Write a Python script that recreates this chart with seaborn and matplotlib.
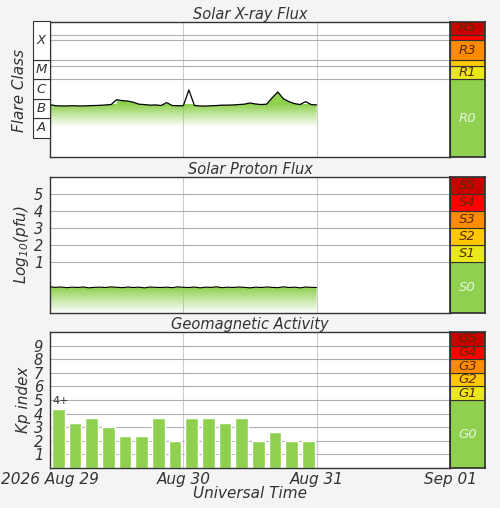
import numpy as np
import matplotlib
matplotlib.use("Agg")
import matplotlib.pyplot as plt
import seaborn as sns
from matplotlib.patches import Rectangle
from matplotlib.colors import LinearSegmentedColormap

# ==================== DATA ====================
# hours since 2026-08-29 00 UT
xray_hours = list(range(49))
xray_log_flux = [-6.30, -6.36, -6.37, -6.37, -6.36, -6.37, -6.37, -6.36, -6.35, -6.34,
                 -6.32, -6.30, -6.05, -6.10, -6.12, -6.18, -6.28, -6.30, -6.33, -6.32,
                 -6.35, -6.20, -6.35, -6.36, -6.36, -5.55, -6.35, -6.37, -6.38, -6.36,
                 -6.35, -6.33, -6.33, -6.32, -6.30, -6.28, -6.22, -6.27, -6.30, -6.28,
                 -5.95, -5.65, -6.00, -6.15, -6.25, -6.30, -6.15, -6.30, -6.32]

proton_hours = list(range(49))
proton_log_pfu = [-0.46, -0.49, -0.47, -0.51, -0.48, -0.50, -0.47, -0.52, -0.49, -0.48,
                  -0.50, -0.46, -0.49, -0.51, -0.47, -0.50, -0.48, -0.52, -0.47, -0.49,
                  -0.50, -0.48, -0.51, -0.46, -0.49, -0.50, -0.47, -0.52, -0.48, -0.49,
                  -0.46, -0.51, -0.48, -0.50, -0.47, -0.49, -0.52, -0.48, -0.50, -0.47,
                  -0.49, -0.51, -0.46, -0.50, -0.48, -0.52, -0.47, -0.49, -0.50]

kp_hours = [1.5 + 3 * i for i in range(16)]
kp_values = [4.33, 3.33, 3.67, 3.0, 2.33, 2.33, 3.67, 2.0,
             3.67, 3.67, 3.33, 3.67, 2.0, 2.67, 2.0, 2.0]
kp_first_label = "4+"

day_ticks = [0, 24, 48, 72]
day_labels = ["2026 Aug 29", "Aug 30", "Aug 31", "Sep 01"]

flare_classes = ["A", "B", "C", "M", "X"]
flare_bounds = [-8, -7, -6, -5, -4, -2]

# scale boxes: (low, high, label, colour)
r_scale = [(-9, -5, "R0", "#8fd14f"), (-5, -4.3, "R1", "#e8e81a"), (-4.3, -4, "", "#ffc800"),
           (-4, -3, "R3", "#ff8c00"), (-3, -2.7, "", "#ff0000"), (-2.7, -2, "R5", "#c80000")]
s_scale = [(-2, 1, "S0", "#8fd14f"), (1, 2, "S1", "#e8e81a"), (2, 3, "S2", "#ffc800"),
           (3, 4, "S3", "#ff8c00"), (4, 5, "S4", "#ff0000"), (5, 6, "S5", "#c80000")]
g_scale = [(0, 5, "G0", "#8fd14f"), (5, 6, "G1", "#e8e81a"), (6, 7, "G2", "#ffc800"),
           (7, 8, "G3", "#ff8c00"), (8, 9, "G4", "#ff0000"), (9, 10, "G5", "#c80000")]

GREEN = "#8fd14f"
TXT = "#333333"

sns.set_theme(style="white")
plt.rcParams["font.family"] = ["DejaVu Sans"]
plt.rcParams["font.style"] = "italic"

fig = plt.figure(figsize=(5, 5.08), dpi=100)
fig.patch.set_facecolor("#f4f4f4")

W, H = 500, 508
def px_axes(x0, y0, x1, y1):
    return fig.add_axes([x0 / W, 1 - y1 / H, (x1 - x0) / W, (y1 - y0) / H])

panels = [(22, 157), (177, 313), (332, 468)]
fade_cmap = LinearSegmentedColormap.from_list(
    "fade", [(0.56, 0.82, 0.31, 0.0), (0.56, 0.82, 0.31, 1.0)])


def setup_main(ax, ylim, yticks, ylabel, title):
    ax.set_facecolor("white")
    ax.set_xlim(0, 72)
    ax.set_ylim(*ylim)
    ax.set_yticks(yticks)
    ax.set_xticks(day_ticks)
    for t in day_ticks[1:3]:
        ax.axvline(t, color="#cccccc", lw=0.8, zorder=0)
    for s in ax.spines.values():
        s.set_color("#333333")
        s.set_linewidth(1)
    ax.set_ylabel(ylabel, fontsize=11, color=TXT, labelpad=2)
    ax.set_title(title, fontsize=10.5, color=TXT, pad=2)
    ax.tick_params(axis="y", length=0, labelsize=10.5, labelcolor=TXT, pad=5)
    ax.tick_params(axis="x", length=0)


def side_scale(y0, y1, ylim, boxes, label_col):
    sa = px_axes(450, y0, 485, y1)
    sa.set_xlim(0, 1)
    sa.set_ylim(*ylim)
    sa.set_xticks([]); sa.set_yticks([])
    for lo, hi, lab, col in boxes:
        sa.add_patch(Rectangle((0, lo), 1, hi - lo, facecolor=col, edgecolor="#333333", lw=0.8))
        if lab:
            c = "#e8f4dc" if col == GREEN else label_col
            sa.text(0.5, (lo + hi) / 2, lab, ha="center", va="center", fontsize=9.5, color=c)
    for s in sa.spines.values():
        s.set_color("#333333")


def gradient_fill(ax, x, y, top, bottom, base):
    poly = ax.fill_between(x, y, base, color="none", lw=0)
    grad = np.linspace(0, 1, 100).reshape(-1, 1)
    im = ax.imshow(grad, cmap=fade_cmap, aspect="auto", origin="lower",
                   extent=[0, 72, bottom, top], zorder=1)
    im.set_clip_path(poly.get_paths()[0], transform=ax.transData)
    # keep solid green above the fade start
    ax.fill_between(x, y, top, where=[v > top for v in y], color=GREEN, lw=0, zorder=1)


# ---- Panel 1: X-ray ----
ax1 = px_axes(50, panels[0][0], 450, panels[0][1])
setup_main(ax1, (-9, -2.05), [], "", "Solar X-ray Flux")
for yl in [-5, -4.3, -4, -3, -2.7]:
    ax1.axhline(yl, color="#b0b0b0", lw=0.8, zorder=0)
gradient_fill(ax1, xray_hours, xray_log_flux, -6.3, -7.45, -7.45)
sns.lineplot(x=xray_hours, y=xray_log_flux, ax=ax1, color="black", lw=0.9, zorder=3)
ax1.set_xticklabels([])
ax1.set_xlabel("")
side_scale(panels[0][0], panels[0][1], (-9, -2.05), r_scale, "#5a2a00")

# flare class boxes
fc = px_axes(33, panels[0][0], 50, panels[0][1])
fc.set_ylim(-9, -2.05); fc.set_xlim(0, 1)
fc.set_xticks([]); fc.set_yticks([])
fc.patch.set_alpha(0)
for s in fc.spines.values():
    s.set_visible(False)
for i, lab in enumerate(flare_classes):
    lo, hi = flare_bounds[i], flare_bounds[i + 1]
    fc.add_patch(Rectangle((0, lo), 1, hi - lo, facecolor="white", edgecolor="#333333", lw=0.8,
                           clip_on=False))
    ymid = (lo + hi) / 2 if lab != "X" else -3
    fc.text(0.5, ymid, lab, ha="center", va="center", fontsize=9.5, color=TXT)
fig.text(20 / W, 1 - 90 / H, "Flare Class", rotation=90, ha="center", va="center",
         fontsize=11, color=TXT)

# ---- Panel 2: Protons ----
ax2 = px_axes(50, panels[1][0], 450, panels[1][1])
setup_main(ax2, (-2, 6), [1, 2, 3, 4, 5], "Log$_{10}$(pfu)", "Solar Proton Flux")
for yl in [1, 2, 3, 4, 5]:
    ax2.axhline(yl, color="#b0b0b0", lw=0.8, zorder=0)
gradient_fill(ax2, proton_hours, proton_log_pfu, -0.5, -2, -2)
sns.lineplot(x=proton_hours, y=proton_log_pfu, ax=ax2, color="black", lw=0.8, zorder=3)
ax2.set_xticklabels([])
ax2.set_xlabel("")
side_scale(panels[1][0], panels[1][1], (-2, 6), s_scale, "#5a2a00")

# ---- Panel 3: Kp ----
ax3 = px_axes(50, panels[2][0], 450, panels[2][1])
setup_main(ax3, (0, 10), list(range(1, 10)), "Kp index", "Geomagnetic Activity")
for yl in range(1, 10):
    ax3.axhline(yl, color="#b0b0b0", lw=0.8, zorder=0)
ax3.bar(kp_hours, kp_values, width=2.3, color=GREEN, zorder=2)
ax3.text(kp_hours[0] - 1.1, kp_values[0] + 0.2, kp_first_label, fontsize=8,
         color=TXT, style="normal", va="bottom")
ax3.set_xticks(list(range(0, 49)), minor=True)
ax3.tick_params(axis="x", which="minor", direction="in", length=3, color="white", width=1)
ax3.set_xticklabels(day_labels, fontsize=11, color=TXT)
ax3.tick_params(axis="x", which="major", pad=3)
ax3.set_xlabel("Universal Time", fontsize=11, color=TXT, labelpad=-1)
side_scale(panels[2][0], panels[2][1], (0, 10), g_scale, "#5a2a00")

fig.savefig("out.png", dpi=100, facecolor=fig.get_facecolor())
